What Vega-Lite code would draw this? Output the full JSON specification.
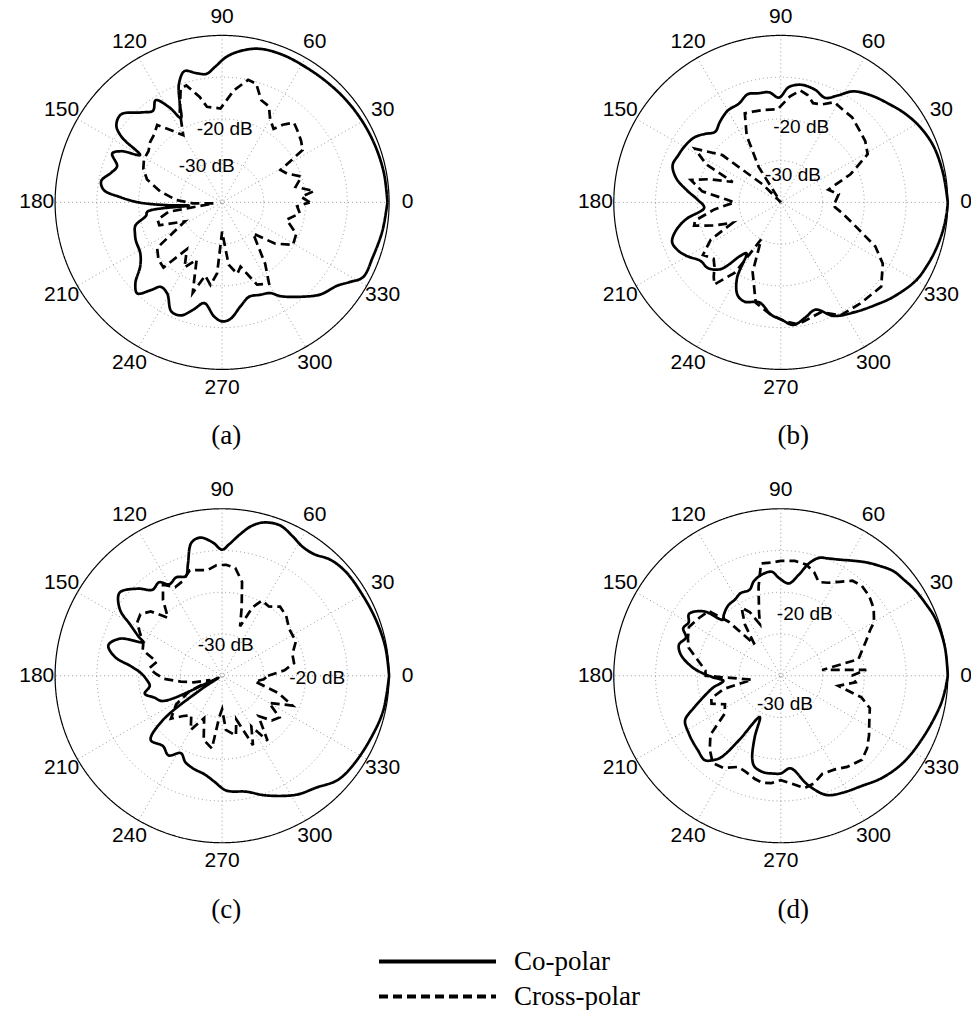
{
"$schema": "https://vega.github.io/schema/vega-lite/v6.json",
"padding": {"left": 5, "top": 2, "right": 0, "bottom": 0},
"background": "white",
"config": {"view": {"stroke": null}, "text": {"font": "Liberation Sans", "color": "black"}},
"datasets": {
"rings": [{"r": 0.25}, {"r": 0.5}, {"r": 0.75}, {"r": 1}],
"spokes": [{"a": 0}, {"a": 30}, {"a": 60}, {"a": 90}, {"a": 120}, {"a": 150}],
"angles": [{"a": 0, "t": "0"}, {"a": 30, "t": "30"}, {"a": 60, "t": "60"}, {"a": 90, "t": "90"}, {"a": 120, "t": "120"}, {"a": 150, "t": "150"}, {"a": 180, "t": "180"}, {"a": 210, "t": "210"}, {"a": 240, "t": "240"}, {"a": 270, "t": "270"}, {"a": 300, "t": "300"}, {"a": 330, "t": "330"}],
"captions": [{"p": "a", "cap": "(a)"}, {"p": "b", "cap": "(b)"}, {"p": "c", "cap": "(c)"}, {"p": "d", "cap": "(d)"}],
"dblabels": [
{"p": "a", "ang": 88, "db": -22.3, "t": "-20 dB"}, {"p": "a", "ang": 113, "db": -30.6, "t": "-30 dB"},
{"p": "b", "ang": 74.8, "db": -21.4, "t": "-20 dB"}, {"p": "b", "ang": 66.3, "db": -32.8, "t": "-30 dB"},
{"p": "c", "ang": 83.2, "db": -32.6, "t": "-30 dB"}, {"p": "c", "ang": 358.6, "db": -17.2, "t": "-20 dB"},
{"p": "d", "ang": 68.8, "db": -24.1, "t": "-20 dB"}, {"p": "d", "ang": 278.4, "db": -33.2, "t": "-30 dB"}
],
"pat": [
{"p":"a","s":"Co-polar","ang":0,"db":-0.4},{"p":"a","s":"Co-polar","ang":10,"db":-0.6},{"p":"a","s":"Co-polar","ang":20,"db":-0.9},{"p":"a","s":"Co-polar","ang":30,"db":-1.2},{"p":"a","s":"Co-polar","ang":40,"db":-1.5},{"p":"a","s":"Co-polar","ang":50,"db":-1.8},{"p":"a","s":"Co-polar","ang":60,"db":-1.9},{"p":"a","s":"Co-polar","ang":68,"db":-1.8},{"p":"a","s":"Co-polar","ang":76,"db":-2.1},{"p":"a","s":"Co-polar","ang":82,"db":-3.2},{"p":"a","s":"Co-polar","ang":88,"db":-5.0},{"p":"a","s":"Co-polar","ang":93,"db":-7.5},{"p":"a","s":"Co-polar","ang":97,"db":-9.0},{"p":"a","s":"Co-polar","ang":101,"db":-8.5},{"p":"a","s":"Co-polar","ang":106,"db":-7.3},{"p":"a","s":"Co-polar","ang":110,"db":-9.8},{"p":"a","s":"Co-polar","ang":113,"db":-14},{"p":"a","s":"Co-polar","ang":116,"db":-17.5},{"p":"a","s":"Co-polar","ang":119,"db":-14},{"p":"a","s":"Co-polar","ang":123,"db":-10.8},{"p":"a","s":"Co-polar","ang":127,"db":-12.5},{"p":"a","s":"Co-polar","ang":132,"db":-11},{"p":"a","s":"Co-polar","ang":139,"db":-7.9},{"p":"a","s":"Co-polar","ang":144,"db":-8.7},{"p":"a","s":"Co-polar","ang":147,"db":-11.4},{"p":"a","s":"Co-polar","ang":150,"db":-17.3},{"p":"a","s":"Co-polar","ang":153,"db":-13},{"p":"a","s":"Co-polar","ang":156,"db":-11.2},{"p":"a","s":"Co-polar","ang":161,"db":-13.4},{"p":"a","s":"Co-polar","ang":165,"db":-12.5},{"p":"a","s":"Co-polar","ang":170,"db":-10.6},{"p":"a","s":"Co-polar","ang":174,"db":-11.5},{"p":"a","s":"Co-polar","ang":177,"db":-15.5},{"p":"a","s":"Co-polar","ang":180,"db":-20},{"p":"a","s":"Co-polar","ang":183,"db":-27},{"p":"a","s":"Co-polar","ang":185.5,"db":-32},{"p":"a","s":"Co-polar","ang":187,"db":-22},{"p":"a","s":"Co-polar","ang":190,"db":-21.5},{"p":"a","s":"Co-polar","ang":195,"db":-18.5},{"p":"a","s":"Co-polar","ang":200,"db":-17.8},{"p":"a","s":"Co-polar","ang":204,"db":-17.4},{"p":"a","s":"Co-polar","ang":212,"db":-16.9},{"p":"a","s":"Co-polar","ang":218,"db":-15.1},{"p":"a","s":"Co-polar","ang":223,"db":-11.6},{"p":"a","s":"Co-polar","ang":227,"db":-10.2},{"p":"a","s":"Co-polar","ang":231,"db":-13},{"p":"a","s":"Co-polar","ang":234,"db":-15},{"p":"a","s":"Co-polar","ang":239,"db":-14.5},{"p":"a","s":"Co-polar","ang":245,"db":-11.2},{"p":"a","s":"Co-polar","ang":250,"db":-11.2},{"p":"a","s":"Co-polar","ang":255,"db":-13.4},{"p":"a","s":"Co-polar","ang":260,"db":-15.5},{"p":"a","s":"Co-polar","ang":266,"db":-12.6},{"p":"a","s":"Co-polar","ang":270,"db":-11.5},{"p":"a","s":"Co-polar","ang":274,"db":-12},{"p":"a","s":"Co-polar","ang":280,"db":-14.7},{"p":"a","s":"Co-polar","ang":286,"db":-16.5},{"p":"a","s":"Co-polar","ang":292,"db":-16.1},{"p":"a","s":"Co-polar","ang":298,"db":-15.4},{"p":"a","s":"Co-polar","ang":302,"db":-13.5},{"p":"a","s":"Co-polar","ang":311,"db":-10.1},{"p":"a","s":"Co-polar","ang":317,"db":-7.7},{"p":"a","s":"Co-polar","ang":324,"db":-6},{"p":"a","s":"Co-polar","ang":328,"db":-4},{"p":"a","s":"Co-polar","ang":332,"db":-1.8},{"p":"a","s":"Co-polar","ang":340,"db":-1.6},{"p":"a","s":"Co-polar","ang":350,"db":-1.0},{"p":"a","s":"Co-polar","ang":360,"db":-0.4},
{"p":"a","s":"Cross-polar","ang":0,"db":-19},{"p":"a","s":"Cross-polar","ang":4,"db":-21},{"p":"a","s":"Cross-polar","ang":7,"db":-17.8},{"p":"a","s":"Cross-polar","ang":12,"db":-22},{"p":"a","s":"Cross-polar","ang":18,"db":-20},{"p":"a","s":"Cross-polar","ang":24,"db":-23},{"p":"a","s":"Cross-polar","ang":29,"db":-24},{"p":"a","s":"Cross-polar","ang":33,"db":-17},{"p":"a","s":"Cross-polar","ang":38,"db":-16},{"p":"a","s":"Cross-polar","ang":44,"db":-15},{"p":"a","s":"Cross-polar","ang":48,"db":-14.3},{"p":"a","s":"Cross-polar","ang":52,"db":-16.4},{"p":"a","s":"Cross-polar","ang":55,"db":-18.5},{"p":"a","s":"Cross-polar","ang":60,"db":-17},{"p":"a","s":"Cross-polar","ang":64,"db":-14.4},{"p":"a","s":"Cross-polar","ang":69,"db":-13.8},{"p":"a","s":"Cross-polar","ang":74,"db":-10.4},{"p":"a","s":"Cross-polar","ang":78,"db":-10},{"p":"a","s":"Cross-polar","ang":84,"db":-13},{"p":"a","s":"Cross-polar","ang":91,"db":-17.5},{"p":"a","s":"Cross-polar","ang":99,"db":-16.8},{"p":"a","s":"Cross-polar","ang":102,"db":-14.2},{"p":"a","s":"Cross-polar","ang":107,"db":-10.7},{"p":"a","s":"Cross-polar","ang":110,"db":-11},{"p":"a","s":"Cross-polar","ang":115,"db":-16},{"p":"a","s":"Cross-polar","ang":120,"db":-21.4},{"p":"a","s":"Cross-polar","ang":125,"db":-19},{"p":"a","s":"Cross-polar","ang":130,"db":-15.8},{"p":"a","s":"Cross-polar","ang":135,"db":-17},{"p":"a","s":"Cross-polar","ang":140,"db":-17.5},{"p":"a","s":"Cross-polar","ang":145,"db":-18.5},{"p":"a","s":"Cross-polar","ang":151,"db":-18.6},{"p":"a","s":"Cross-polar","ang":157,"db":-19.5},{"p":"a","s":"Cross-polar","ang":163,"db":-21.2},{"p":"a","s":"Cross-polar","ang":170,"db":-25},{"p":"a","s":"Cross-polar","ang":177,"db":-29},{"p":"a","s":"Cross-polar","ang":182,"db":-33},{"p":"a","s":"Cross-polar","ang":186,"db":-38},{"p":"a","s":"Cross-polar","ang":190,"db":-27},{"p":"a","s":"Cross-polar","ang":195,"db":-24},{"p":"a","s":"Cross-polar","ang":200,"db":-24},{"p":"a","s":"Cross-polar","ang":207,"db":-30},{"p":"a","s":"Cross-polar","ang":215,"db":-21},{"p":"a","s":"Cross-polar","ang":222,"db":-19.5},{"p":"a","s":"Cross-polar","ang":228,"db":-19},{"p":"a","s":"Cross-polar","ang":233,"db":-26},{"p":"a","s":"Cross-polar","ang":240,"db":-22},{"p":"a","s":"Cross-polar","ang":246,"db":-25},{"p":"a","s":"Cross-polar","ang":252,"db":-17.2},{"p":"a","s":"Cross-polar","ang":257,"db":-22},{"p":"a","s":"Cross-polar","ang":262,"db":-20},{"p":"a","s":"Cross-polar","ang":266,"db":-23},{"p":"a","s":"Cross-polar","ang":270,"db":-33},{"p":"a","s":"Cross-polar","ang":276,"db":-25},{"p":"a","s":"Cross-polar","ang":282,"db":-22.5},{"p":"a","s":"Cross-polar","ang":286,"db":-24},{"p":"a","s":"Cross-polar","ang":293,"db":-18.6},{"p":"a","s":"Cross-polar","ang":300,"db":-17.5},{"p":"a","s":"Cross-polar","ang":305,"db":-22},{"p":"a","s":"Cross-polar","ang":315,"db":-29.5},{"p":"a","s":"Cross-polar","ang":322,"db":-24},{"p":"a","s":"Cross-polar","ang":329,"db":-20.2},{"p":"a","s":"Cross-polar","ang":337,"db":-20.7},{"p":"a","s":"Cross-polar","ang":345,"db":-24},{"p":"a","s":"Cross-polar","ang":352,"db":-21.2},{"p":"a","s":"Cross-polar","ang":357,"db":-22},{"p":"a","s":"Cross-polar","ang":360,"db":-19},
{"p":"b","s":"Co-polar","ang":0,"db":0},{"p":"b","s":"Co-polar","ang":10,"db":-0.5},{"p":"b","s":"Co-polar","ang":20,"db":-1},{"p":"b","s":"Co-polar","ang":28,"db":-2},{"p":"b","s":"Co-polar","ang":35,"db":-3.3},{"p":"b","s":"Co-polar","ang":42,"db":-4.9},{"p":"b","s":"Co-polar","ang":50,"db":-6.5},{"p":"b","s":"Co-polar","ang":57,"db":-8.3},{"p":"b","s":"Co-polar","ang":62,"db":-11},{"p":"b","s":"Co-polar","ang":67,"db":-12.8},{"p":"b","s":"Co-polar","ang":73,"db":-11.8},{"p":"b","s":"Co-polar","ang":80,"db":-11.4},{"p":"b","s":"Co-polar","ang":86,"db":-12.3},{"p":"b","s":"Co-polar","ang":91,"db":-14.9},{"p":"b","s":"Co-polar","ang":96,"db":-13.5},{"p":"b","s":"Co-polar","ang":102,"db":-13.3},{"p":"b","s":"Co-polar","ang":107,"db":-12.9},{"p":"b","s":"Co-polar","ang":113,"db":-14.3},{"p":"b","s":"Co-polar","ang":120,"db":-14.6},{"p":"b","s":"Co-polar","ang":127,"db":-15.8},{"p":"b","s":"Co-polar","ang":133,"db":-16.9},{"p":"b","s":"Co-polar","ang":138,"db":-15.5},{"p":"b","s":"Co-polar","ang":143,"db":-14.1},{"p":"b","s":"Co-polar","ang":150,"db":-13.3},{"p":"b","s":"Co-polar","ang":155,"db":-13},{"p":"b","s":"Co-polar","ang":161,"db":-12.6},{"p":"b","s":"Co-polar","ang":167,"db":-14.3},{"p":"b","s":"Co-polar","ang":173,"db":-17.5},{"p":"b","s":"Co-polar","ang":178,"db":-20},{"p":"b","s":"Co-polar","ang":184,"db":-21.6},{"p":"b","s":"Co-polar","ang":190,"db":-17},{"p":"b","s":"Co-polar","ang":195,"db":-14},{"p":"b","s":"Co-polar","ang":200,"db":-12.3},{"p":"b","s":"Co-polar","ang":205,"db":-12.8},{"p":"b","s":"Co-polar","ang":210,"db":-14.2},{"p":"b","s":"Co-polar","ang":216,"db":-16.2},{"p":"b","s":"Co-polar","ang":222,"db":-16.5},{"p":"b","s":"Co-polar","ang":228,"db":-18.5},{"p":"b","s":"Co-polar","ang":233,"db":-24},{"p":"b","s":"Co-polar","ang":236,"db":-25.3},{"p":"b","s":"Co-polar","ang":240,"db":-19},{"p":"b","s":"Co-polar","ang":245,"db":-15.5},{"p":"b","s":"Co-polar","ang":250,"db":-14.7},{"p":"b","s":"Co-polar","ang":258,"db":-15.5},{"p":"b","s":"Co-polar","ang":265,"db":-13},{"p":"b","s":"Co-polar","ang":270,"db":-12},{"p":"b","s":"Co-polar","ang":276,"db":-10.5},{"p":"b","s":"Co-polar","ang":282,"db":-11.8},{"p":"b","s":"Co-polar","ang":288,"db":-13},{"p":"b","s":"Co-polar","ang":295,"db":-10},{"p":"b","s":"Co-polar","ang":304,"db":-8.3},{"p":"b","s":"Co-polar","ang":313,"db":-6.5},{"p":"b","s":"Co-polar","ang":320,"db":-4.8},{"p":"b","s":"Co-polar","ang":330,"db":-2.6},{"p":"b","s":"Co-polar","ang":337,"db":-1.8},{"p":"b","s":"Co-polar","ang":343,"db":-1.2},{"p":"b","s":"Co-polar","ang":350,"db":-0.6},{"p":"b","s":"Co-polar","ang":356,"db":-0.2},{"p":"b","s":"Co-polar","ang":360,"db":0},
{"p":"b","s":"Cross-polar","ang":0,"db":-27},{"p":"b","s":"Cross-polar","ang":8,"db":-26},{"p":"b","s":"Cross-polar","ang":15,"db":-28.2},{"p":"b","s":"Cross-polar","ang":22,"db":-22},{"p":"b","s":"Cross-polar","ang":29,"db":-16.2},{"p":"b","s":"Cross-polar","ang":36,"db":-15},{"p":"b","s":"Cross-polar","ang":42,"db":-14.5},{"p":"b","s":"Cross-polar","ang":50,"db":-13.4},{"p":"b","s":"Cross-polar","ang":56,"db":-13.3},{"p":"b","s":"Cross-polar","ang":62,"db":-12.8},{"p":"b","s":"Cross-polar","ang":67,"db":-14.5},{"p":"b","s":"Cross-polar","ang":72,"db":-15},{"p":"b","s":"Cross-polar","ang":76,"db":-13.5},{"p":"b","s":"Cross-polar","ang":80,"db":-12.8},{"p":"b","s":"Cross-polar","ang":85,"db":-14.5},{"p":"b","s":"Cross-polar","ang":92,"db":-17.7},{"p":"b","s":"Cross-polar","ang":100,"db":-17.5},{"p":"b","s":"Cross-polar","ang":106,"db":-17.3},{"p":"b","s":"Cross-polar","ang":112,"db":-17},{"p":"b","s":"Cross-polar","ang":117,"db":-22},{"p":"b","s":"Cross-polar","ang":122,"db":-30},{"p":"b","s":"Cross-polar","ang":128,"db":-40},{"p":"b","s":"Cross-polar","ang":135,"db":-34},{"p":"b","s":"Cross-polar","ang":141,"db":-22},{"p":"b","s":"Cross-polar","ang":148,"db":-15.7},{"p":"b","s":"Cross-polar","ang":153,"db":-20},{"p":"b","s":"Cross-polar","ang":157,"db":-27.5},{"p":"b","s":"Cross-polar","ang":162,"db":-22},{"p":"b","s":"Cross-polar","ang":166,"db":-17.8},{"p":"b","s":"Cross-polar","ang":172,"db":-21},{"p":"b","s":"Cross-polar","ang":177,"db":-27},{"p":"b","s":"Cross-polar","ang":180,"db":-28.9},{"p":"b","s":"Cross-polar","ang":186,"db":-24},{"p":"b","s":"Cross-polar","ang":192,"db":-19},{"p":"b","s":"Cross-polar","ang":195,"db":-18.5},{"p":"b","s":"Cross-polar","ang":199,"db":-23},{"p":"b","s":"Cross-polar","ang":203,"db":-27.5},{"p":"b","s":"Cross-polar","ang":208,"db":-21},{"p":"b","s":"Cross-polar","ang":214,"db":-17.5},{"p":"b","s":"Cross-polar","ang":220,"db":-19},{"p":"b","s":"Cross-polar","ang":224,"db":-17.9},{"p":"b","s":"Cross-polar","ang":228,"db":-16},{"p":"b","s":"Cross-polar","ang":231,"db":-14.7},{"p":"b","s":"Cross-polar","ang":237,"db":-20},{"p":"b","s":"Cross-polar","ang":242,"db":-30},{"p":"b","s":"Cross-polar","ang":248,"db":-22},{"p":"b","s":"Cross-polar","ang":256,"db":-15.2},{"p":"b","s":"Cross-polar","ang":265,"db":-13},{"p":"b","s":"Cross-polar","ang":272,"db":-11.5},{"p":"b","s":"Cross-polar","ang":278,"db":-10.5},{"p":"b","s":"Cross-polar","ang":285,"db":-11.5},{"p":"b","s":"Cross-polar","ang":290,"db":-12},{"p":"b","s":"Cross-polar","ang":298,"db":-9.4},{"p":"b","s":"Cross-polar","ang":308,"db":-9.2},{"p":"b","s":"Cross-polar","ang":320,"db":-8.6},{"p":"b","s":"Cross-polar","ang":329,"db":-11.5},{"p":"b","s":"Cross-polar","ang":335,"db":-15},{"p":"b","s":"Cross-polar","ang":342,"db":-21},{"p":"b","s":"Cross-polar","ang":350,"db":-25},{"p":"b","s":"Cross-polar","ang":355,"db":-27},{"p":"b","s":"Cross-polar","ang":360,"db":-27},
{"p":"c","s":"Co-polar","ang":0,"db":0},{"p":"c","s":"Co-polar","ang":10,"db":-0.3},{"p":"c","s":"Co-polar","ang":20,"db":-0.8},{"p":"c","s":"Co-polar","ang":30,"db":-1.2},{"p":"c","s":"Co-polar","ang":40,"db":-1.3},{"p":"c","s":"Co-polar","ang":47,"db":-2},{"p":"c","s":"Co-polar","ang":53,"db":-3.5},{"p":"c","s":"Co-polar","ang":58,"db":-3.6},{"p":"c","s":"Co-polar","ang":63,"db":-2.6},{"p":"c","s":"Co-polar","ang":69,"db":-1.4},{"p":"c","s":"Co-polar","ang":75,"db":-2},{"p":"c","s":"Co-polar","ang":79,"db":-3.5},{"p":"c","s":"Co-polar","ang":83,"db":-6},{"p":"c","s":"Co-polar","ang":87,"db":-8.5},{"p":"c","s":"Co-polar","ang":90,"db":-9.8},{"p":"c","s":"Co-polar","ang":94,"db":-8},{"p":"c","s":"Co-polar","ang":99,"db":-6.5},{"p":"c","s":"Co-polar","ang":103,"db":-7.3},{"p":"c","s":"Co-polar","ang":107,"db":-12},{"p":"c","s":"Co-polar","ang":110,"db":-14.6},{"p":"c","s":"Co-polar","ang":115,"db":-14},{"p":"c","s":"Co-polar","ang":120,"db":-14.7},{"p":"c","s":"Co-polar","ang":124,"db":-13},{"p":"c","s":"Co-polar","ang":129,"db":-13.5},{"p":"c","s":"Co-polar","ang":134,"db":-11},{"p":"c","s":"Co-polar","ang":141,"db":-8.4},{"p":"c","s":"Co-polar","ang":147,"db":-10.8},{"p":"c","s":"Co-polar","ang":151,"db":-14.9},{"p":"c","s":"Co-polar","ang":155,"db":-18},{"p":"c","s":"Co-polar","ang":157,"db":-19.5},{"p":"c","s":"Co-polar","ang":160,"db":-14},{"p":"c","s":"Co-polar","ang":165,"db":-11.8},{"p":"c","s":"Co-polar","ang":170,"db":-13.9},{"p":"c","s":"Co-polar","ang":174,"db":-18},{"p":"c","s":"Co-polar","ang":178,"db":-20.5},{"p":"c","s":"Co-polar","ang":183,"db":-21.9},{"p":"c","s":"Co-polar","ang":188,"db":-22.5},{"p":"c","s":"Co-polar","ang":193,"db":-21},{"p":"c","s":"Co-polar","ang":198,"db":-23},{"p":"c","s":"Co-polar","ang":203,"db":-24.5},{"p":"c","s":"Co-polar","ang":206,"db":-36},{"p":"c","s":"Co-polar","ang":209,"db":-39},{"p":"c","s":"Co-polar","ang":213,"db":-34},{"p":"c","s":"Co-polar","ang":217,"db":-22},{"p":"c","s":"Co-polar","ang":222,"db":-17},{"p":"c","s":"Co-polar","ang":230,"db":-18},{"p":"c","s":"Co-polar","ang":236,"db":-17},{"p":"c","s":"Co-polar","ang":242,"db":-19},{"p":"c","s":"Co-polar","ang":247,"db":-17.5},{"p":"c","s":"Co-polar","ang":253,"db":-16.7},{"p":"c","s":"Co-polar","ang":260,"db":-16},{"p":"c","s":"Co-polar","ang":266,"db":-14.5},{"p":"c","s":"Co-polar","ang":272,"db":-12.5},{"p":"c","s":"Co-polar","ang":282,"db":-11.6},{"p":"c","s":"Co-polar","ang":290,"db":-9.5},{"p":"c","s":"Co-polar","ang":302,"db":-6.4},{"p":"c","s":"Co-polar","ang":310,"db":-5},{"p":"c","s":"Co-polar","ang":318,"db":-2.7},{"p":"c","s":"Co-polar","ang":326,"db":-2},{"p":"c","s":"Co-polar","ang":338,"db":-1.3},{"p":"c","s":"Co-polar","ang":348,"db":-0.5},{"p":"c","s":"Co-polar","ang":360,"db":0},
{"p":"c","s":"Cross-polar","ang":0,"db":-29},{"p":"c","s":"Cross-polar","ang":5,"db":-25},{"p":"c","s":"Cross-polar","ang":10,"db":-22.5},{"p":"c","s":"Cross-polar","ang":17,"db":-22.4},{"p":"c","s":"Cross-polar","ang":25,"db":-20.5},{"p":"c","s":"Cross-polar","ang":35,"db":-20.4},{"p":"c","s":"Cross-polar","ang":43,"db":-19},{"p":"c","s":"Cross-polar","ang":50,"db":-18.4},{"p":"c","s":"Cross-polar","ang":56,"db":-20},{"p":"c","s":"Cross-polar","ang":62,"db":-19.6},{"p":"c","s":"Cross-polar","ang":66,"db":-22},{"p":"c","s":"Cross-polar","ang":70,"db":-27.4},{"p":"c","s":"Cross-polar","ang":74,"db":-23},{"p":"c","s":"Cross-polar","ang":78,"db":-17},{"p":"c","s":"Cross-polar","ang":83,"db":-14},{"p":"c","s":"Cross-polar","ang":88,"db":-13.4},{"p":"c","s":"Cross-polar","ang":93,"db":-13.5},{"p":"c","s":"Cross-polar","ang":98,"db":-14.5},{"p":"c","s":"Cross-polar","ang":103,"db":-14},{"p":"c","s":"Cross-polar","ang":107,"db":-13.6},{"p":"c","s":"Cross-polar","ang":113,"db":-15.5},{"p":"c","s":"Cross-polar","ang":118,"db":-16},{"p":"c","s":"Cross-polar","ang":123,"db":-14},{"p":"c","s":"Cross-polar","ang":128,"db":-17},{"p":"c","s":"Cross-polar","ang":133,"db":-21},{"p":"c","s":"Cross-polar","ang":138,"db":-17},{"p":"c","s":"Cross-polar","ang":143,"db":-15.5},{"p":"c","s":"Cross-polar","ang":148,"db":-16},{"p":"c","s":"Cross-polar","ang":153,"db":-18},{"p":"c","s":"Cross-polar","ang":157,"db":-19.5},{"p":"c","s":"Cross-polar","ang":162,"db":-20},{"p":"c","s":"Cross-polar","ang":168,"db":-24},{"p":"c","s":"Cross-polar","ang":174,"db":-22.5},{"p":"c","s":"Cross-polar","ang":178,"db":-24},{"p":"c","s":"Cross-polar","ang":183,"db":-26},{"p":"c","s":"Cross-polar","ang":188,"db":-30},{"p":"c","s":"Cross-polar","ang":193,"db":-33},{"p":"c","s":"Cross-polar","ang":200,"db":-37},{"p":"c","s":"Cross-polar","ang":206,"db":-31},{"p":"c","s":"Cross-polar","ang":212,"db":-27},{"p":"c","s":"Cross-polar","ang":220,"db":-24},{"p":"c","s":"Cross-polar","ang":226,"db":-26.6},{"p":"c","s":"Cross-polar","ang":232,"db":-28},{"p":"c","s":"Cross-polar","ang":240,"db":-25},{"p":"c","s":"Cross-polar","ang":247,"db":-29},{"p":"c","s":"Cross-polar","ang":254,"db":-24},{"p":"c","s":"Cross-polar","ang":262,"db":-22.4},{"p":"c","s":"Cross-polar","ang":266,"db":-30},{"p":"c","s":"Cross-polar","ang":270,"db":-32},{"p":"c","s":"Cross-polar","ang":274,"db":-27},{"p":"c","s":"Cross-polar","ang":283,"db":-25.3},{"p":"c","s":"Cross-polar","ang":288,"db":-29},{"p":"c","s":"Cross-polar","ang":294,"db":-21.8},{"p":"c","s":"Cross-polar","ang":300,"db":-26},{"p":"c","s":"Cross-polar","ang":305,"db":-21},{"p":"c","s":"Cross-polar","ang":312,"db":-27},{"p":"c","s":"Cross-polar","ang":318,"db":-24},{"p":"c","s":"Cross-polar","ang":324,"db":-23},{"p":"c","s":"Cross-polar","ang":330,"db":-27},{"p":"c","s":"Cross-polar","ang":337,"db":-21.7},{"p":"c","s":"Cross-polar","ang":343,"db":-26},{"p":"c","s":"Cross-polar","ang":350,"db":-32},{"p":"c","s":"Cross-polar","ang":355,"db":-30},{"p":"c","s":"Cross-polar","ang":360,"db":-29},
{"p":"d","s":"Co-polar","ang":0,"db":0},{"p":"d","s":"Co-polar","ang":10,"db":-0.1},{"p":"d","s":"Co-polar","ang":20,"db":-0.5},{"p":"d","s":"Co-polar","ang":27,"db":-1.3},{"p":"d","s":"Co-polar","ang":33,"db":-1.9},{"p":"d","s":"Co-polar","ang":38,"db":-2.6},{"p":"d","s":"Co-polar","ang":43,"db":-3.2},{"p":"d","s":"Co-polar","ang":48,"db":-4.6},{"p":"d","s":"Co-polar","ang":53,"db":-6},{"p":"d","s":"Co-polar","ang":58,"db":-7.5},{"p":"d","s":"Co-polar","ang":63,"db":-8.8},{"p":"d","s":"Co-polar","ang":68,"db":-9.7},{"p":"d","s":"Co-polar","ang":72,"db":-10.3},{"p":"d","s":"Co-polar","ang":76,"db":-12.3},{"p":"d","s":"Co-polar","ang":80,"db":-15.5},{"p":"d","s":"Co-polar","ang":85,"db":-17.8},{"p":"d","s":"Co-polar","ang":91,"db":-16.6},{"p":"d","s":"Co-polar","ang":95,"db":-15},{"p":"d","s":"Co-polar","ang":101,"db":-15.4},{"p":"d","s":"Co-polar","ang":106,"db":-16.5},{"p":"d","s":"Co-polar","ang":110,"db":-18.1},{"p":"d","s":"Co-polar","ang":116,"db":-18},{"p":"d","s":"Co-polar","ang":121,"db":-18.7},{"p":"d","s":"Co-polar","ang":127,"db":-19},{"p":"d","s":"Co-polar","ang":133,"db":-20},{"p":"d","s":"Co-polar","ang":136,"db":-20.7},{"p":"d","s":"Co-polar","ang":140,"db":-16},{"p":"d","s":"Co-polar","ang":146,"db":-13.5},{"p":"d","s":"Co-polar","ang":150,"db":-14.5},{"p":"d","s":"Co-polar","ang":154,"db":-14},{"p":"d","s":"Co-polar","ang":158,"db":-15.5},{"p":"d","s":"Co-polar","ang":163,"db":-14.5},{"p":"d","s":"Co-polar","ang":168,"db":-15.5},{"p":"d","s":"Co-polar","ang":175,"db":-19},{"p":"d","s":"Co-polar","ang":181,"db":-23.5},{"p":"d","s":"Co-polar","ang":185,"db":-26.2},{"p":"d","s":"Co-polar","ang":190,"db":-23.5},{"p":"d","s":"Co-polar","ang":195,"db":-21},{"p":"d","s":"Co-polar","ang":200,"db":-18},{"p":"d","s":"Co-polar","ang":205,"db":-14.7},{"p":"d","s":"Co-polar","ang":212,"db":-14},{"p":"d","s":"Co-polar","ang":216,"db":-13.7},{"p":"d","s":"Co-polar","ang":222,"db":-13.3},{"p":"d","s":"Co-polar","ang":228,"db":-12.8},{"p":"d","s":"Co-polar","ang":232,"db":-14.5},{"p":"d","s":"Co-polar","ang":234,"db":-16},{"p":"d","s":"Co-polar","ang":237,"db":-21.5},{"p":"d","s":"Co-polar","ang":243,"db":-28.9},{"p":"d","s":"Co-polar","ang":247,"db":-24},{"p":"d","s":"Co-polar","ang":251,"db":-19},{"p":"d","s":"Co-polar","ang":254,"db":-17.3},{"p":"d","s":"Co-polar","ang":260,"db":-16.5},{"p":"d","s":"Co-polar","ang":265,"db":-16.5},{"p":"d","s":"Co-polar","ang":270,"db":-16.6},{"p":"d","s":"Co-polar","ang":276,"db":-17.7},{"p":"d","s":"Co-polar","ang":284,"db":-13},{"p":"d","s":"Co-polar","ang":291,"db":-9.4},{"p":"d","s":"Co-polar","ang":298,"db":-8.3},{"p":"d","s":"Co-polar","ang":306,"db":-7.3},{"p":"d","s":"Co-polar","ang":315,"db":-5.5},{"p":"d","s":"Co-polar","ang":325,"db":-4},{"p":"d","s":"Co-polar","ang":337,"db":-2.8},{"p":"d","s":"Co-polar","ang":349,"db":-1.2},{"p":"d","s":"Co-polar","ang":355,"db":-0.5},{"p":"d","s":"Co-polar","ang":360,"db":0},
{"p":"d","s":"Cross-polar","ang":0,"db":-23},{"p":"d","s":"Cross-polar","ang":4,"db":-19.5},{"p":"d","s":"Cross-polar","ang":8,"db":-30},{"p":"d","s":"Cross-polar","ang":12,"db":-21},{"p":"d","s":"Cross-polar","ang":17,"db":-19.7},{"p":"d","s":"Cross-polar","ang":22,"db":-18},{"p":"d","s":"Cross-polar","ang":27,"db":-16},{"p":"d","s":"Cross-polar","ang":30,"db":-14.2},{"p":"d","s":"Cross-polar","ang":36,"db":-12.5},{"p":"d","s":"Cross-polar","ang":42,"db":-11.5},{"p":"d","s":"Cross-polar","ang":48,"db":-11},{"p":"d","s":"Cross-polar","ang":53,"db":-11.5},{"p":"d","s":"Cross-polar","ang":58,"db":-13.5},{"p":"d","s":"Cross-polar","ang":63,"db":-15},{"p":"d","s":"Cross-polar","ang":68,"db":-15.8},{"p":"d","s":"Cross-polar","ang":72,"db":-14},{"p":"d","s":"Cross-polar","ang":77,"db":-12.7},{"p":"d","s":"Cross-polar","ang":83,"db":-12.3},{"p":"d","s":"Cross-polar","ang":90,"db":-12.5},{"p":"d","s":"Cross-polar","ang":95,"db":-12.8},{"p":"d","s":"Cross-polar","ang":100,"db":-12.7},{"p":"d","s":"Cross-polar","ang":104,"db":-18},{"p":"d","s":"Cross-polar","ang":109,"db":-24},{"p":"d","s":"Cross-polar","ang":112,"db":-26.7},{"p":"d","s":"Cross-polar","ang":116,"db":-23},{"p":"d","s":"Cross-polar","ang":120,"db":-21.2},{"p":"d","s":"Cross-polar","ang":125,"db":-25},{"p":"d","s":"Cross-polar","ang":130,"db":-30.2},{"p":"d","s":"Cross-polar","ang":134,"db":-22},{"p":"d","s":"Cross-polar","ang":138,"db":-16.8},{"p":"d","s":"Cross-polar","ang":145,"db":-16},{"p":"d","s":"Cross-polar","ang":152,"db":-15.1},{"p":"d","s":"Cross-polar","ang":158,"db":-16},{"p":"d","s":"Cross-polar","ang":163,"db":-16.9},{"p":"d","s":"Cross-polar","ang":170,"db":-20},{"p":"d","s":"Cross-polar","ang":176,"db":-21.9},{"p":"d","s":"Cross-polar","ang":180,"db":-22},{"p":"d","s":"Cross-polar","ang":184,"db":-30},{"p":"d","s":"Cross-polar","ang":188,"db":-33},{"p":"d","s":"Cross-polar","ang":193,"db":-26},{"p":"d","s":"Cross-polar","ang":198,"db":-22.5},{"p":"d","s":"Cross-polar","ang":202,"db":-22.1},{"p":"d","s":"Cross-polar","ang":207,"db":-25},{"p":"d","s":"Cross-polar","ang":214,"db":-23.8},{"p":"d","s":"Cross-polar","ang":220,"db":-18},{"p":"d","s":"Cross-polar","ang":226,"db":-15.5},{"p":"d","s":"Cross-polar","ang":232,"db":-13.5},{"p":"d","s":"Cross-polar","ang":238,"db":-14},{"p":"d","s":"Cross-polar","ang":245,"db":-15.9},{"p":"d","s":"Cross-polar","ang":250,"db":-15.5},{"p":"d","s":"Cross-polar","ang":256,"db":-14.5},{"p":"d","s":"Cross-polar","ang":260,"db":-14},{"p":"d","s":"Cross-polar","ang":265,"db":-14.2},{"p":"d","s":"Cross-polar","ang":270,"db":-15},{"p":"d","s":"Cross-polar","ang":276,"db":-14},{"p":"d","s":"Cross-polar","ang":282,"db":-12.5},{"p":"d","s":"Cross-polar","ang":287,"db":-13},{"p":"d","s":"Cross-polar","ang":293,"db":-14.5},{"p":"d","s":"Cross-polar","ang":300,"db":-14.1},{"p":"d","s":"Cross-polar","ang":306,"db":-13},{"p":"d","s":"Cross-polar","ang":314,"db":-12},{"p":"d","s":"Cross-polar","ang":320,"db":-13},{"p":"d","s":"Cross-polar","ang":326,"db":-14.5},{"p":"d","s":"Cross-polar","ang":332,"db":-16},{"p":"d","s":"Cross-polar","ang":340,"db":-17.3},{"p":"d","s":"Cross-polar","ang":345,"db":-20},{"p":"d","s":"Cross-polar","ang":350,"db":-26},{"p":"d","s":"Cross-polar","ang":355,"db":-22},{"p":"d","s":"Cross-polar","ang":360,"db":-23}
]
},
"vconcat": [
{"hconcat": [
{"width": 434.2, "height": 459.25, "layer": [
{"data": {"name": "rings"}, "mark": {"type": "point", "shape": "circle", "filled": false, "opacity": 1}, "encoding": {"x": {"datum": 0, "type": "quantitative", "scale": {"domain": [-1.3, 1.3], "nice": false, "zero": false}, "axis": null}, "y": {"datum": 0, "type": "quantitative", "scale": {"domain": [-1.55, 1.2], "nice": false, "zero": false}, "axis": null}, "size": {"field": "r", "type": "quantitative", "scale": {"type": "pow", "exponent": 2, "domain": [0, 1], "range": [0, 111556], "zero": true}, "legend": null}, "stroke": {"condition": {"test": "datum.r == 1", "value": "black"}, "value": "#808080"}, "strokeWidth": {"condition": {"test": "datum.r == 1", "value": 1.2}, "value": 0.8}, "strokeDash": {"condition": {"test": "datum.r == 1", "value": [1, 0]}, "value": [1, 3]}}},
{"data": {"name": "spokes"}, "transform": [{"calculate": "cos(datum.a*PI/180)", "as": "sx"}, {"calculate": "sin(datum.a*PI/180)", "as": "sy"}, {"calculate": "-cos(datum.a*PI/180)", "as": "ex"}, {"calculate": "-sin(datum.a*PI/180)", "as": "ey"}], "mark": {"type": "rule", "stroke": "#808080", "strokeWidth": 0.8, "strokeDash": [1, 3]}, "encoding": {"x": {"field": "sx", "type": "quantitative", "scale": {"domain": [-1.3, 1.3], "nice": false, "zero": false}, "axis": null}, "y": {"field": "sy", "type": "quantitative", "scale": {"domain": [-1.55, 1.2], "nice": false, "zero": false}, "axis": null}, "x2": {"field": "ex"}, "y2": {"field": "ey"}}},
{"data": {"name": "angles"}, "transform": [{"calculate": "1.11*cos(datum.a*PI/180)", "as": "tx"}, {"calculate": "1.11*sin(datum.a*PI/180)", "as": "ty"}], "mark": {"type": "text", "fontSize": 21, "align": "center", "baseline": "middle", "font": "Liberation Sans"}, "encoding": {"x": {"field": "tx", "type": "quantitative", "scale": {"domain": [-1.3, 1.3], "nice": false, "zero": false}, "axis": null}, "y": {"field": "ty", "type": "quantitative", "scale": {"domain": [-1.55, 1.2], "nice": false, "zero": false}, "axis": null}, "text": {"field": "t"}}},
{"data": {"name": "pat"}, "transform": [{"filter": "datum.p == 'a' && datum.s == 'Co-polar'"}, {"calculate": "(max(datum.db,-40)+40)/40", "as": "rn"}, {"calculate": "datum.rn*cos(datum.ang*PI/180)", "as": "px"}, {"calculate": "datum.rn*sin(datum.ang*PI/180)", "as": "py"}], "mark": {"type": "line", "color": "black", "strokeWidth": 2.7, "interpolate": "catmull-rom"}, "encoding": {"x": {"field": "px", "type": "quantitative", "scale": {"domain": [-1.3, 1.3], "nice": false, "zero": false}, "axis": null}, "y": {"field": "py", "type": "quantitative", "scale": {"domain": [-1.55, 1.2], "nice": false, "zero": false}, "axis": null}, "order": {"field": "ang", "type": "quantitative"}, "strokeDash": {"field": "s", "type": "nominal", "scale": {"domain": ["Co-polar", "Cross-polar"], "range": [[1, 0], [9, 5]]}, "legend": {"orient": "none", "legendX": 411, "legendY": 938, "title": null, "symbolType": "M-3,0H3", "symbolSize": 1521, "symbolStrokeWidth": 4, "symbolStrokeColor": "black", "symbolFillColor": "transparent", "labelFont": "Liberation Serif", "labelFontSize": 27, "labelColor": "black", "labelOffset": 55, "rowPadding": -10, "padding": 0}}}},
{"data": {"name": "pat"}, "transform": [{"filter": "datum.p == 'a' && datum.s == 'Cross-polar'"}, {"calculate": "(max(datum.db,-40)+40)/40", "as": "rn"}, {"calculate": "datum.rn*cos(datum.ang*PI/180)", "as": "px"}, {"calculate": "datum.rn*sin(datum.ang*PI/180)", "as": "py"}], "mark": {"type": "line", "color": "black", "strokeWidth": 2.7}, "encoding": {"x": {"field": "px", "type": "quantitative", "scale": {"domain": [-1.3, 1.3], "nice": false, "zero": false}, "axis": null}, "y": {"field": "py", "type": "quantitative", "scale": {"domain": [-1.55, 1.2], "nice": false, "zero": false}, "axis": null}, "order": {"field": "ang", "type": "quantitative"}, "strokeDash": {"field": "s", "type": "nominal", "scale": {"domain": ["Co-polar", "Cross-polar"], "range": [[1, 0], [9, 5]]}}}},
{"data": {"name": "dblabels"}, "transform": [{"filter": "datum.p == 'a'"}, {"calculate": "(datum.db+40)/40", "as": "rn"}, {"calculate": "datum.rn*cos(datum.ang*PI/180)", "as": "px"}, {"calculate": "datum.rn*sin(datum.ang*PI/180)", "as": "py"}], "mark": {"type": "text", "fontSize": 19, "align": "center", "baseline": "middle", "font": "Liberation Sans"}, "encoding": {"x": {"field": "px", "type": "quantitative", "scale": {"domain": [-1.3, 1.3], "nice": false, "zero": false}, "axis": null}, "y": {"field": "py", "type": "quantitative", "scale": {"domain": [-1.55, 1.2], "nice": false, "zero": false}, "axis": null}, "text": {"field": "t"}}},
{"data": {"name": "captions"}, "transform": [{"filter": "datum.p == 'a'"}], "mark": {"type": "text", "fontSize": 27, "align": "center", "baseline": "middle", "font": "Liberation Serif"}, "encoding": {"x": {"datum": 0.025, "type": "quantitative", "scale": {"domain": [-1.3, 1.3], "nice": false, "zero": false}, "axis": null}, "y": {"datum": -1.4, "type": "quantitative", "scale": {"domain": [-1.55, 1.2], "nice": false, "zero": false}, "axis": null}, "text": {"field": "cap"}}}
]},
{"width": 394.1, "height": 459.25, "layer": [
{"data": {"name": "rings"}, "mark": {"type": "point", "shape": "circle", "filled": false, "opacity": 1}, "encoding": {"x": {"datum": 0, "type": "quantitative", "scale": {"domain": [-1.2, 1.16], "nice": false, "zero": false}, "axis": null}, "y": {"datum": 0, "type": "quantitative", "scale": {"domain": [-1.55, 1.2], "nice": false, "zero": false}, "axis": null}, "size": {"field": "r", "type": "quantitative", "scale": {"type": "pow", "exponent": 2, "domain": [0, 1], "range": [0, 111556], "zero": true}, "legend": null}, "stroke": {"condition": {"test": "datum.r == 1", "value": "black"}, "value": "#808080"}, "strokeWidth": {"condition": {"test": "datum.r == 1", "value": 1.2}, "value": 0.8}, "strokeDash": {"condition": {"test": "datum.r == 1", "value": [1, 0]}, "value": [1, 3]}}},
{"data": {"name": "spokes"}, "transform": [{"calculate": "cos(datum.a*PI/180)", "as": "sx"}, {"calculate": "sin(datum.a*PI/180)", "as": "sy"}, {"calculate": "-cos(datum.a*PI/180)", "as": "ex"}, {"calculate": "-sin(datum.a*PI/180)", "as": "ey"}], "mark": {"type": "rule", "stroke": "#808080", "strokeWidth": 0.8, "strokeDash": [1, 3]}, "encoding": {"x": {"field": "sx", "type": "quantitative", "scale": {"domain": [-1.2, 1.16], "nice": false, "zero": false}, "axis": null}, "y": {"field": "sy", "type": "quantitative", "scale": {"domain": [-1.55, 1.2], "nice": false, "zero": false}, "axis": null}, "x2": {"field": "ex"}, "y2": {"field": "ey"}}},
{"data": {"name": "angles"}, "transform": [{"calculate": "1.11*cos(datum.a*PI/180)", "as": "tx"}, {"calculate": "1.11*sin(datum.a*PI/180)", "as": "ty"}], "mark": {"type": "text", "fontSize": 21, "align": "center", "baseline": "middle", "font": "Liberation Sans"}, "encoding": {"x": {"field": "tx", "type": "quantitative", "scale": {"domain": [-1.2, 1.16], "nice": false, "zero": false}, "axis": null}, "y": {"field": "ty", "type": "quantitative", "scale": {"domain": [-1.55, 1.2], "nice": false, "zero": false}, "axis": null}, "text": {"field": "t"}}},
{"data": {"name": "pat"}, "transform": [{"filter": "datum.p == 'b' && datum.s == 'Co-polar'"}, {"calculate": "(max(datum.db,-40)+40)/40", "as": "rn"}, {"calculate": "datum.rn*cos(datum.ang*PI/180)", "as": "px"}, {"calculate": "datum.rn*sin(datum.ang*PI/180)", "as": "py"}], "mark": {"type": "line", "color": "black", "strokeWidth": 2.7, "interpolate": "catmull-rom"}, "encoding": {"x": {"field": "px", "type": "quantitative", "scale": {"domain": [-1.2, 1.16], "nice": false, "zero": false}, "axis": null}, "y": {"field": "py", "type": "quantitative", "scale": {"domain": [-1.55, 1.2], "nice": false, "zero": false}, "axis": null}, "order": {"field": "ang", "type": "quantitative"}, "strokeDash": {"field": "s", "type": "nominal", "scale": {"domain": ["Co-polar", "Cross-polar"], "range": [[1, 0], [9, 5]]}}}},
{"data": {"name": "pat"}, "transform": [{"filter": "datum.p == 'b' && datum.s == 'Cross-polar'"}, {"calculate": "(max(datum.db,-40)+40)/40", "as": "rn"}, {"calculate": "datum.rn*cos(datum.ang*PI/180)", "as": "px"}, {"calculate": "datum.rn*sin(datum.ang*PI/180)", "as": "py"}], "mark": {"type": "line", "color": "black", "strokeWidth": 2.7}, "encoding": {"x": {"field": "px", "type": "quantitative", "scale": {"domain": [-1.2, 1.16], "nice": false, "zero": false}, "axis": null}, "y": {"field": "py", "type": "quantitative", "scale": {"domain": [-1.55, 1.2], "nice": false, "zero": false}, "axis": null}, "order": {"field": "ang", "type": "quantitative"}, "strokeDash": {"field": "s", "type": "nominal", "scale": {"domain": ["Co-polar", "Cross-polar"], "range": [[1, 0], [9, 5]]}}}},
{"data": {"name": "dblabels"}, "transform": [{"filter": "datum.p == 'b'"}, {"calculate": "(datum.db+40)/40", "as": "rn"}, {"calculate": "datum.rn*cos(datum.ang*PI/180)", "as": "px"}, {"calculate": "datum.rn*sin(datum.ang*PI/180)", "as": "py"}], "mark": {"type": "text", "fontSize": 19, "align": "center", "baseline": "middle", "font": "Liberation Sans"}, "encoding": {"x": {"field": "px", "type": "quantitative", "scale": {"domain": [-1.2, 1.16], "nice": false, "zero": false}, "axis": null}, "y": {"field": "py", "type": "quantitative", "scale": {"domain": [-1.55, 1.2], "nice": false, "zero": false}, "axis": null}, "text": {"field": "t"}}},
{"data": {"name": "captions"}, "transform": [{"filter": "datum.p == 'b'"}], "mark": {"type": "text", "fontSize": 27, "align": "center", "baseline": "middle", "font": "Liberation Serif"}, "encoding": {"x": {"datum": 0.075, "type": "quantitative", "scale": {"domain": [-1.2, 1.16], "nice": false, "zero": false}, "axis": null}, "y": {"datum": -1.4, "type": "quantitative", "scale": {"domain": [-1.55, 1.2], "nice": false, "zero": false}, "axis": null}, "text": {"field": "cap"}}}
]}
], "spacing": 137.4},
{"hconcat": [
{"width": 434.2, "height": 459.25, "layer": [
{"data": {"name": "rings"}, "mark": {"type": "point", "shape": "circle", "filled": false, "opacity": 1}, "encoding": {"x": {"datum": 0, "type": "quantitative", "scale": {"domain": [-1.3, 1.3], "nice": false, "zero": false}, "axis": null}, "y": {"datum": 0, "type": "quantitative", "scale": {"domain": [-1.55, 1.2], "nice": false, "zero": false}, "axis": null}, "size": {"field": "r", "type": "quantitative", "scale": {"type": "pow", "exponent": 2, "domain": [0, 1], "range": [0, 111556], "zero": true}, "legend": null}, "stroke": {"condition": {"test": "datum.r == 1", "value": "black"}, "value": "#808080"}, "strokeWidth": {"condition": {"test": "datum.r == 1", "value": 1.2}, "value": 0.8}, "strokeDash": {"condition": {"test": "datum.r == 1", "value": [1, 0]}, "value": [1, 3]}}},
{"data": {"name": "spokes"}, "transform": [{"calculate": "cos(datum.a*PI/180)", "as": "sx"}, {"calculate": "sin(datum.a*PI/180)", "as": "sy"}, {"calculate": "-cos(datum.a*PI/180)", "as": "ex"}, {"calculate": "-sin(datum.a*PI/180)", "as": "ey"}], "mark": {"type": "rule", "stroke": "#808080", "strokeWidth": 0.8, "strokeDash": [1, 3]}, "encoding": {"x": {"field": "sx", "type": "quantitative", "scale": {"domain": [-1.3, 1.3], "nice": false, "zero": false}, "axis": null}, "y": {"field": "sy", "type": "quantitative", "scale": {"domain": [-1.55, 1.2], "nice": false, "zero": false}, "axis": null}, "x2": {"field": "ex"}, "y2": {"field": "ey"}}},
{"data": {"name": "angles"}, "transform": [{"calculate": "1.11*cos(datum.a*PI/180)", "as": "tx"}, {"calculate": "1.11*sin(datum.a*PI/180)", "as": "ty"}], "mark": {"type": "text", "fontSize": 21, "align": "center", "baseline": "middle", "font": "Liberation Sans"}, "encoding": {"x": {"field": "tx", "type": "quantitative", "scale": {"domain": [-1.3, 1.3], "nice": false, "zero": false}, "axis": null}, "y": {"field": "ty", "type": "quantitative", "scale": {"domain": [-1.55, 1.2], "nice": false, "zero": false}, "axis": null}, "text": {"field": "t"}}},
{"data": {"name": "pat"}, "transform": [{"filter": "datum.p == 'c' && datum.s == 'Co-polar'"}, {"calculate": "(max(datum.db,-40)+40)/40", "as": "rn"}, {"calculate": "datum.rn*cos(datum.ang*PI/180)", "as": "px"}, {"calculate": "datum.rn*sin(datum.ang*PI/180)", "as": "py"}], "mark": {"type": "line", "color": "black", "strokeWidth": 2.7, "interpolate": "catmull-rom"}, "encoding": {"x": {"field": "px", "type": "quantitative", "scale": {"domain": [-1.3, 1.3], "nice": false, "zero": false}, "axis": null}, "y": {"field": "py", "type": "quantitative", "scale": {"domain": [-1.55, 1.2], "nice": false, "zero": false}, "axis": null}, "order": {"field": "ang", "type": "quantitative"}, "strokeDash": {"field": "s", "type": "nominal", "scale": {"domain": ["Co-polar", "Cross-polar"], "range": [[1, 0], [9, 5]]}}}},
{"data": {"name": "pat"}, "transform": [{"filter": "datum.p == 'c' && datum.s == 'Cross-polar'"}, {"calculate": "(max(datum.db,-40)+40)/40", "as": "rn"}, {"calculate": "datum.rn*cos(datum.ang*PI/180)", "as": "px"}, {"calculate": "datum.rn*sin(datum.ang*PI/180)", "as": "py"}], "mark": {"type": "line", "color": "black", "strokeWidth": 2.7}, "encoding": {"x": {"field": "px", "type": "quantitative", "scale": {"domain": [-1.3, 1.3], "nice": false, "zero": false}, "axis": null}, "y": {"field": "py", "type": "quantitative", "scale": {"domain": [-1.55, 1.2], "nice": false, "zero": false}, "axis": null}, "order": {"field": "ang", "type": "quantitative"}, "strokeDash": {"field": "s", "type": "nominal", "scale": {"domain": ["Co-polar", "Cross-polar"], "range": [[1, 0], [9, 5]]}}}},
{"data": {"name": "dblabels"}, "transform": [{"filter": "datum.p == 'c'"}, {"calculate": "(datum.db+40)/40", "as": "rn"}, {"calculate": "datum.rn*cos(datum.ang*PI/180)", "as": "px"}, {"calculate": "datum.rn*sin(datum.ang*PI/180)", "as": "py"}], "mark": {"type": "text", "fontSize": 19, "align": "center", "baseline": "middle", "font": "Liberation Sans"}, "encoding": {"x": {"field": "px", "type": "quantitative", "scale": {"domain": [-1.3, 1.3], "nice": false, "zero": false}, "axis": null}, "y": {"field": "py", "type": "quantitative", "scale": {"domain": [-1.55, 1.2], "nice": false, "zero": false}, "axis": null}, "text": {"field": "t"}}},
{"data": {"name": "captions"}, "transform": [{"filter": "datum.p == 'c'"}], "mark": {"type": "text", "fontSize": 27, "align": "center", "baseline": "middle", "font": "Liberation Serif"}, "encoding": {"x": {"datum": 0.025, "type": "quantitative", "scale": {"domain": [-1.3, 1.3], "nice": false, "zero": false}, "axis": null}, "y": {"datum": -1.4, "type": "quantitative", "scale": {"domain": [-1.55, 1.2], "nice": false, "zero": false}, "axis": null}, "text": {"field": "cap"}}}
]},
{"width": 394.1, "height": 459.25, "layer": [
{"data": {"name": "rings"}, "mark": {"type": "point", "shape": "circle", "filled": false, "opacity": 1}, "encoding": {"x": {"datum": 0, "type": "quantitative", "scale": {"domain": [-1.2, 1.16], "nice": false, "zero": false}, "axis": null}, "y": {"datum": 0, "type": "quantitative", "scale": {"domain": [-1.55, 1.2], "nice": false, "zero": false}, "axis": null}, "size": {"field": "r", "type": "quantitative", "scale": {"type": "pow", "exponent": 2, "domain": [0, 1], "range": [0, 111556], "zero": true}, "legend": null}, "stroke": {"condition": {"test": "datum.r == 1", "value": "black"}, "value": "#808080"}, "strokeWidth": {"condition": {"test": "datum.r == 1", "value": 1.2}, "value": 0.8}, "strokeDash": {"condition": {"test": "datum.r == 1", "value": [1, 0]}, "value": [1, 3]}}},
{"data": {"name": "spokes"}, "transform": [{"calculate": "cos(datum.a*PI/180)", "as": "sx"}, {"calculate": "sin(datum.a*PI/180)", "as": "sy"}, {"calculate": "-cos(datum.a*PI/180)", "as": "ex"}, {"calculate": "-sin(datum.a*PI/180)", "as": "ey"}], "mark": {"type": "rule", "stroke": "#808080", "strokeWidth": 0.8, "strokeDash": [1, 3]}, "encoding": {"x": {"field": "sx", "type": "quantitative", "scale": {"domain": [-1.2, 1.16], "nice": false, "zero": false}, "axis": null}, "y": {"field": "sy", "type": "quantitative", "scale": {"domain": [-1.55, 1.2], "nice": false, "zero": false}, "axis": null}, "x2": {"field": "ex"}, "y2": {"field": "ey"}}},
{"data": {"name": "angles"}, "transform": [{"calculate": "1.11*cos(datum.a*PI/180)", "as": "tx"}, {"calculate": "1.11*sin(datum.a*PI/180)", "as": "ty"}], "mark": {"type": "text", "fontSize": 21, "align": "center", "baseline": "middle", "font": "Liberation Sans"}, "encoding": {"x": {"field": "tx", "type": "quantitative", "scale": {"domain": [-1.2, 1.16], "nice": false, "zero": false}, "axis": null}, "y": {"field": "ty", "type": "quantitative", "scale": {"domain": [-1.55, 1.2], "nice": false, "zero": false}, "axis": null}, "text": {"field": "t"}}},
{"data": {"name": "pat"}, "transform": [{"filter": "datum.p == 'd' && datum.s == 'Co-polar'"}, {"calculate": "(max(datum.db,-40)+40)/40", "as": "rn"}, {"calculate": "datum.rn*cos(datum.ang*PI/180)", "as": "px"}, {"calculate": "datum.rn*sin(datum.ang*PI/180)", "as": "py"}], "mark": {"type": "line", "color": "black", "strokeWidth": 2.7, "interpolate": "catmull-rom"}, "encoding": {"x": {"field": "px", "type": "quantitative", "scale": {"domain": [-1.2, 1.16], "nice": false, "zero": false}, "axis": null}, "y": {"field": "py", "type": "quantitative", "scale": {"domain": [-1.55, 1.2], "nice": false, "zero": false}, "axis": null}, "order": {"field": "ang", "type": "quantitative"}, "strokeDash": {"field": "s", "type": "nominal", "scale": {"domain": ["Co-polar", "Cross-polar"], "range": [[1, 0], [9, 5]]}}}},
{"data": {"name": "pat"}, "transform": [{"filter": "datum.p == 'd' && datum.s == 'Cross-polar'"}, {"calculate": "(max(datum.db,-40)+40)/40", "as": "rn"}, {"calculate": "datum.rn*cos(datum.ang*PI/180)", "as": "px"}, {"calculate": "datum.rn*sin(datum.ang*PI/180)", "as": "py"}], "mark": {"type": "line", "color": "black", "strokeWidth": 2.7}, "encoding": {"x": {"field": "px", "type": "quantitative", "scale": {"domain": [-1.2, 1.16], "nice": false, "zero": false}, "axis": null}, "y": {"field": "py", "type": "quantitative", "scale": {"domain": [-1.55, 1.2], "nice": false, "zero": false}, "axis": null}, "order": {"field": "ang", "type": "quantitative"}, "strokeDash": {"field": "s", "type": "nominal", "scale": {"domain": ["Co-polar", "Cross-polar"], "range": [[1, 0], [9, 5]]}}}},
{"data": {"name": "dblabels"}, "transform": [{"filter": "datum.p == 'd'"}, {"calculate": "(datum.db+40)/40", "as": "rn"}, {"calculate": "datum.rn*cos(datum.ang*PI/180)", "as": "px"}, {"calculate": "datum.rn*sin(datum.ang*PI/180)", "as": "py"}], "mark": {"type": "text", "fontSize": 19, "align": "center", "baseline": "middle", "font": "Liberation Sans"}, "encoding": {"x": {"field": "px", "type": "quantitative", "scale": {"domain": [-1.2, 1.16], "nice": false, "zero": false}, "axis": null}, "y": {"field": "py", "type": "quantitative", "scale": {"domain": [-1.55, 1.2], "nice": false, "zero": false}, "axis": null}, "text": {"field": "t"}}},
{"data": {"name": "captions"}, "transform": [{"filter": "datum.p == 'd'"}], "mark": {"type": "text", "fontSize": 27, "align": "center", "baseline": "middle", "font": "Liberation Serif"}, "encoding": {"x": {"datum": 0.075, "type": "quantitative", "scale": {"domain": [-1.2, 1.16], "nice": false, "zero": false}, "axis": null}, "y": {"datum": -1.4, "type": "quantitative", "scale": {"domain": [-1.55, 1.2], "nice": false, "zero": false}, "axis": null}, "text": {"field": "cap"}}}
]}
], "spacing": 137.4}
],
"spacing": 13.35
}
